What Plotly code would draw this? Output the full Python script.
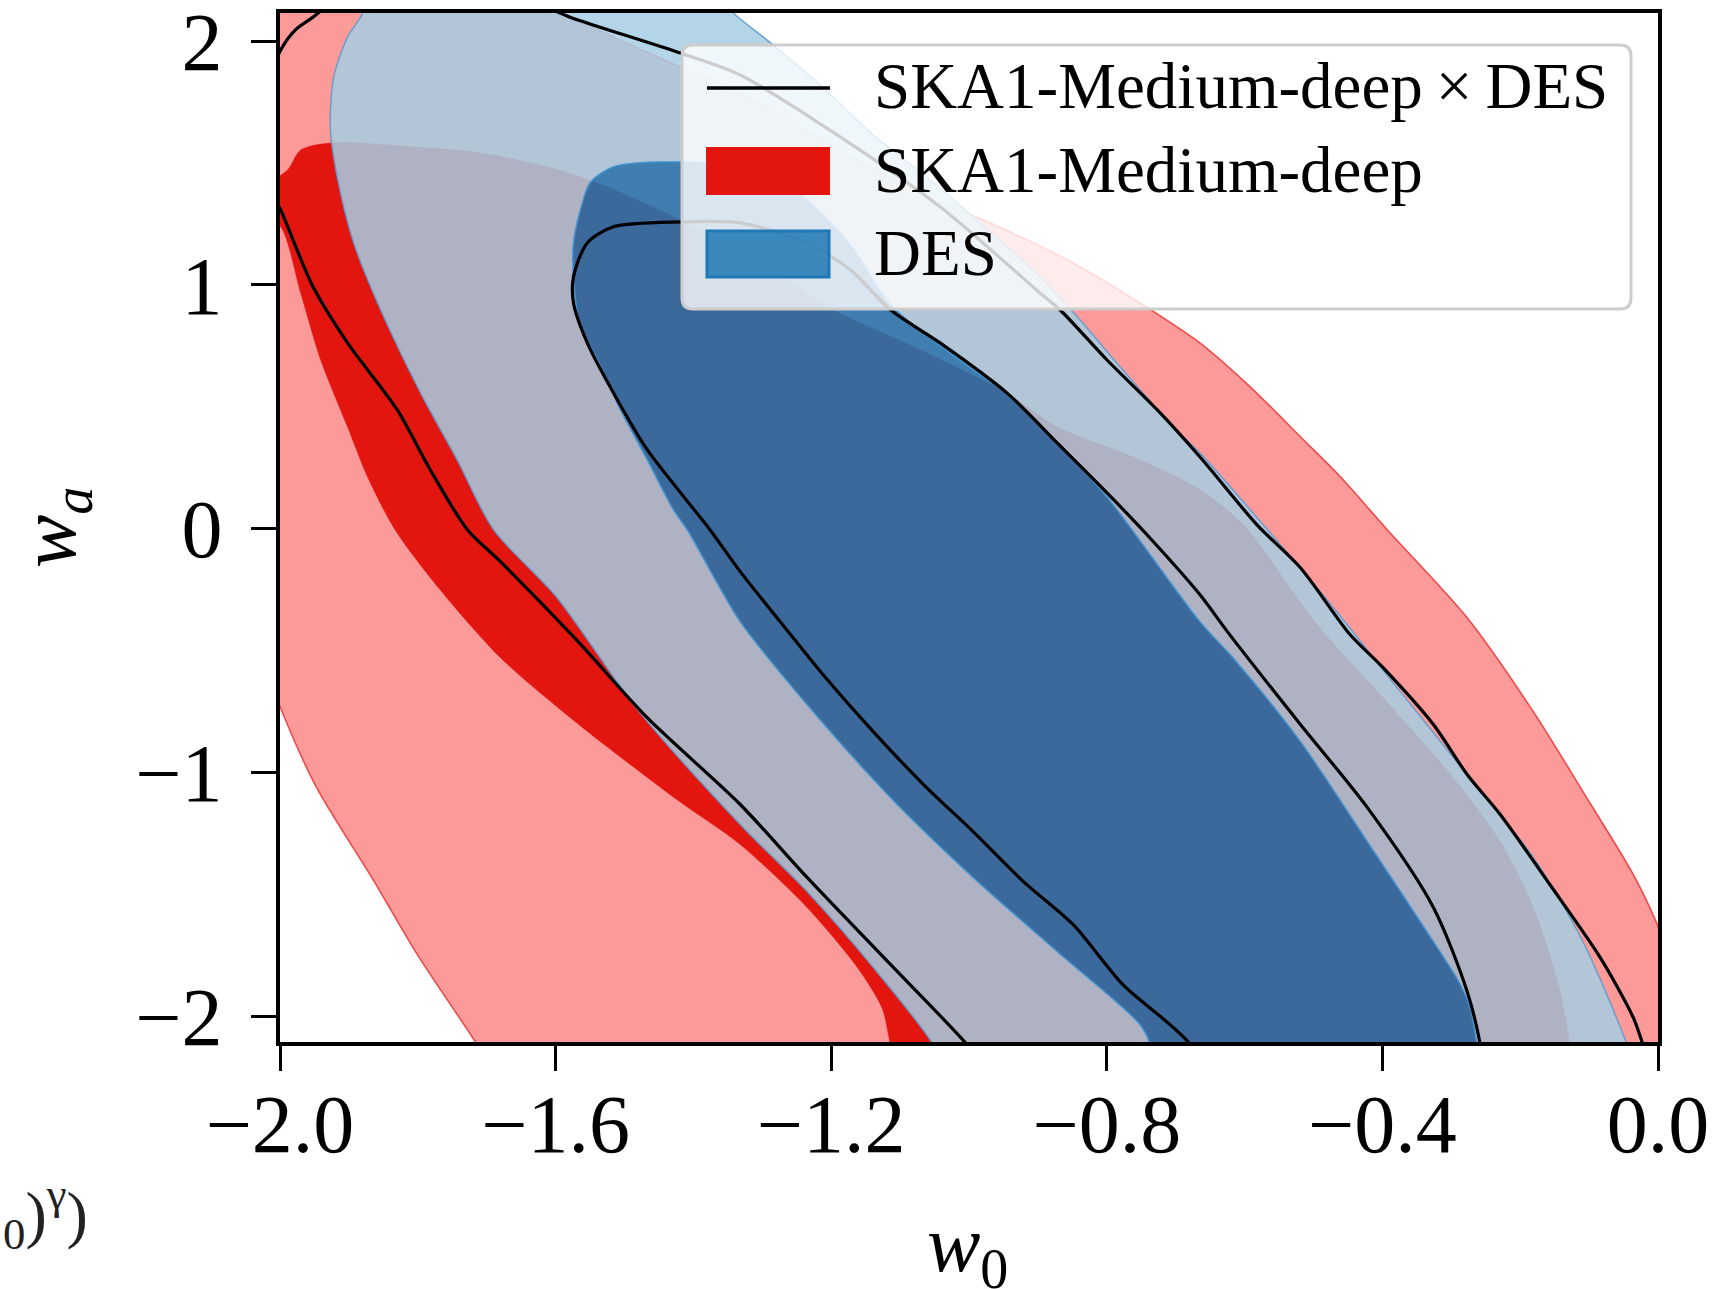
import plotly.graph_objects as go

# ---------------- data (contour boundaries, in (w0, wa)) ----------------
# SKA1-Medium-deep, 2-sigma region
red_2sigma_w0 = [-1.574, -1.419, -1.332, -1.187, -1.061, -0.969, -0.849, -0.752, -0.665, -0.592,
                 -0.519, -0.461, -0.393, -0.277, -0.181, -0.109, -0.036, -0.001, 0.046, 0.083,
                 -0.810, -1.666, -1.718, -1.799, -1.866, -1.947, -2.000, -2.057, -2.087, -2.072,
                 -1.970, -1.753, -1.622]
red_2sigma_wa = [2.094, 1.893, 1.787, 1.553, 1.361, 1.254, 1.090, 0.926, 0.762, 0.582,
                 0.377, 0.213, -0.004, -0.365, -0.750, -1.078, -1.418, -1.623, -1.971, -2.340,
                 -2.750, -2.340, -2.098, -1.754, -1.434, -1.061, -0.730, -0.291, 0.939, 2.168,
                 2.414, 2.414, 2.168]

# SKA1-Medium-deep, 1-sigma region
red_1sigma_w0 = [-2.028, -1.989, -1.970, -1.927, -1.806, -1.709, -1.612, -1.539, -1.419, -1.307,
                 -1.197, -1.071, -0.945, -0.872, -0.752, -0.665, -0.602, -0.495, -0.399, -0.301,
                 -0.229, -0.181, -0.142, -0.128, -0.116, -1.093, -1.114, -1.126, -1.162, -1.235,
                 -1.332, -1.422, -1.570, -1.680, -1.770, -1.833, -1.873, -1.902, -1.941, -1.970,
                 -1.999, -2.028]
red_1sigma_wa = [1.389, 1.471, 1.553, 1.582, 1.566, 1.541, 1.484, 1.418, 1.266, 1.094,
                 0.898, 0.734, 0.557, 0.418, 0.283, 0.160, 0.016, -0.393, -0.693, -1.008,
                 -1.283, -1.553, -1.898, -2.115, -2.340, -2.340, -2.115, -1.967, -1.799, -1.553,
                 -1.295, -1.115, -0.795, -0.529, -0.242, -0.004, 0.213, 0.418, 0.693, 0.967,
                 1.238, 1.287]

# DES, 2-sigma region
blue_2sigma_w0 = [-1.854, -1.607, -1.390, -1.339, -1.293, -1.216, -1.139, -1.056, -0.976, -0.897,
                  -0.843, -0.777, -0.704, -0.665, -0.573, -0.471, -0.374, -0.277, -0.181, -0.109,
                  -0.045, -0.019, -0.519, -1.013, -1.052, -1.139, -1.235, -1.332, -1.481, -1.599,
                  -1.690, -1.743, -1.796, -1.854, -1.893, -1.917, -1.927, -1.922, -1.902, -1.883]
blue_2sigma_wa = [2.250, 2.373, 2.250, 2.107, 2.004, 1.820, 1.615, 1.430, 1.234, 1.033,
                  0.869, 0.652, 0.418, 0.311, 0.016, -0.324, -0.668, -1.008, -1.348, -1.693,
                  -2.115, -2.340, -2.750, -2.340, -2.115, -1.799, -1.488, -1.213, -0.742, -0.279,
                  -0.004, 0.283, 0.557, 0.898, 1.172, 1.443, 1.648, 1.852, 2.016, 2.098]

# DES, 1-sigma region
blue_1sigma_w0 = [-1.516, -1.419, -1.332, -1.245, -1.172, -1.114, -0.994, -0.945, -0.872, -0.800,
                  -0.665, -0.617, -0.519, -0.422, -0.326, -0.287, -0.273, -0.263, -0.255,
                  -0.723, -0.737, -0.752, -0.872, -0.994, -1.114, -1.235, -1.332, -1.409, -1.429,
                  -1.467, -1.506, -1.539, -1.564, -1.574, -1.574, -1.564, -1.550]
blue_1sigma_wa = [1.484, 1.504, 1.480, 1.369, 1.164, 0.918, 0.652, 0.557, 0.352, 0.131,
                  -0.381, -0.529, -0.873, -1.283, -1.693, -1.869, -1.963, -2.115, -2.340,
                  -2.340, -2.115, -2.033, -1.734, -1.430, -1.102, -0.721, -0.381, -0.004, 0.078,
                  0.283, 0.488, 0.693, 0.828, 1.033, 1.172, 1.307, 1.418]

# SKA1-Medium-deep x DES, 1-sigma contour line
comb_1sigma_w0 = [-0.643, -0.679, -0.777, -0.849, -0.921, -0.994, -1.066, -1.139, -1.212, -1.259,
                  -1.332, -1.376, -1.467, -1.516, -1.554, -1.574, -1.574, -1.554, -1.516,
                  -1.419, -1.332, -1.235, -1.172, -1.114, -1.042, -0.945, -0.872, -0.800, -0.740,
                  -0.665, -0.625, -0.519, -0.422, -0.326, -0.277, -0.258, -0.248]
comb_1sigma_wa = [-2.340, -2.115, -1.869, -1.623, -1.447, -1.242, -1.049, -0.832, -0.598, -0.434,
                  -0.176, -0.004, 0.324, 0.557, 0.762, 0.926, 1.033, 1.172, 1.238,
                  1.258, 1.254, 1.172, 1.061, 0.898, 0.762, 0.557, 0.352, 0.148, -0.030,
                  -0.270, -0.422, -0.803, -1.143, -1.553, -1.898, -2.115, -2.340]

# SKA1-Medium-deep x DES, 2-sigma contour line
comb_2sigma_w0 = [0.003, -0.022, -0.036, -0.084, -0.157, -0.229, -0.277, -0.326, -0.399, -0.447,
                  -0.519, -0.582, -0.665, -0.727, -0.800, -0.868, -0.897, -1.042, -1.187, -1.332,
                  -1.419, -1.579, -1.622, -1.753, -1.898, -1.952, -1.978, -1.999, -2.021, -2.026,
                  -2.014, -1.999, -1.952, -1.902, -1.830, -1.782, -1.728, -1.680, -1.570, -1.467,
                  -1.332, -1.235, -1.114, -1.003, -0.940]
comb_2sigma_wa = [-2.340, -2.115, -2.004, -1.758, -1.459, -1.172, -1.008, -0.803, -0.570, -0.434,
                  -0.160, 0.016, 0.295, 0.488, 0.693, 0.898, 0.967, 1.320, 1.607, 1.861,
                  1.951, 2.098, 2.148, 2.250, 2.209, 2.098, 2.045, 1.963, 1.799, 1.553,
                  1.389, 1.307, 0.992, 0.762, 0.488, 0.242, -0.004, -0.135, -0.455, -0.775,
                  -1.131, -1.430, -1.787, -2.115, -2.340]

x_tick_values = [-2.0, -1.6, -1.2, -0.8, -0.4, 0.0]
x_tick_labels = ["\u22122.0", "\u22121.6", "\u22121.2", "\u22120.8", "\u22120.4", "0.0"]
y_tick_values = [-2, -1, 0, 1, 2]
y_tick_labels = ["\u22122", "\u22121", "0", "1", "2"]

legend_labels = ["SKA1-Medium-deep\u2009\u00d7\u2009DES", "SKA1-Medium-deep", "DES"]

# ---------------- styling ----------------
W, H = 1733, 1289
ML, MR, MT, MB = 280, 75, 13, 247
PW = W - ML - MR
PH = H - MT - MB


def pxx(px):
    return (px - ML) / PW


def pxy(py):
    return (H - MB - py) / PH


SERIF = "Liberation Serif"
RED_LIGHT = "#fb9a99"
RED_DARK = "#e3150f"
BLUE_LIGHT = "rgba(166,206,227,0.85)"
BLUE_DARK = "rgba(31,120,180,0.85)"
SMOOTH = 0.8

fig = go.Figure()


def add_poly(x, y, fill, lcolor, lwidth):
    fig.add_trace(go.Scatter(x=x, y=y, mode="lines", fill="toself", fillcolor=fill,
                             line=dict(color=lcolor, width=lwidth, shape="spline",
                                       smoothing=SMOOTH),
                             hoverinfo="skip", showlegend=False))


# SKA1 contours (opaque)
add_poly(red_2sigma_w0 + red_2sigma_w0[:1], red_2sigma_wa + red_2sigma_wa[:1],
         RED_LIGHT, "rgba(236,60,60,0.9)", 1.6)
add_poly(red_1sigma_w0 + red_1sigma_w0[:1], red_1sigma_wa + red_1sigma_wa[:1],
         RED_DARK, RED_DARK, 0.5)

# DES 2-sigma band (outer ring with the 1-sigma region cut out)
inner_rev_x = blue_1sigma_w0[::-1]
inner_rev_y = blue_1sigma_wa[::-1]
ring_x = blue_2sigma_w0 + blue_2sigma_w0[:1] + [None] + inner_rev_x + inner_rev_x[:1]
ring_y = blue_2sigma_wa + blue_2sigma_wa[:1] + [None] + inner_rev_y + inner_rev_y[:1]
add_poly(ring_x, ring_y, BLUE_LIGHT, "rgba(95,155,205,0.9)", 1.5)

# DES 1-sigma region
add_poly(blue_1sigma_w0 + blue_1sigma_w0[:1], blue_1sigma_wa + blue_1sigma_wa[:1],
         BLUE_DARK, "rgba(70,150,210,0.9)", 1.3)

# combined contours (lines only)
for xs, ys in [(comb_1sigma_w0, comb_1sigma_wa), (comb_2sigma_w0, comb_2sigma_wa)]:
    fig.add_trace(go.Scatter(x=xs, y=ys, mode="lines",
                             line=dict(color="black", width=3.2, shape="spline",
                                       smoothing=SMOOTH),
                             hoverinfo="skip", showlegend=False))

# ---------------- legend (drawn by hand to match the matplotlib look) ----------------
x0, x1 = pxx(682), pxx(1631)
y0, y1 = pxy(309), pxy(45)
rx, ry = 11 / PW, 11 / PH
legend_path = (f"M {x0 + rx},{y1} L {x1 - rx},{y1} Q {x1},{y1} {x1},{y1 - ry} "
               f"L {x1},{y0 + ry} Q {x1},{y0} {x1 - rx},{y0} L {x0 + rx},{y0} "
               f"Q {x0},{y0} {x0},{y0 + ry} L {x0},{y1 - ry} Q {x0},{y1} {x0 + rx},{y1} Z")
shapes = [
    dict(type="path", path=legend_path, xref="paper", yref="paper", layer="above",
         fillcolor="rgba(255,255,255,0.8)", line=dict(color="rgb(205,205,205)", width=3)),
    dict(type="line", xref="paper", yref="paper", layer="above",
         x0=pxx(707), x1=pxx(830), y0=pxy(88), y1=pxy(88),
         line=dict(color="black", width=3.5)),
    dict(type="rect", xref="paper", yref="paper", layer="above",
         x0=pxx(706), x1=pxx(830), y0=pxy(195), y1=pxy(147),
         fillcolor=RED_DARK, line=dict(color=RED_DARK, width=0)),
    dict(type="rect", xref="paper", yref="paper", layer="above",
         x0=pxx(707), x1=pxx(829), y0=pxy(277), y1=pxy(231),
         fillcolor=BLUE_DARK, line=dict(color="rgb(31,120,180)", width=3)),
]

annotations = []
for lab, cy in zip(legend_labels, [86, 170, 253]):
    annotations.append(dict(text=lab, xref="paper", yref="paper", x=pxx(872), y=pxy(cy),
                            xanchor="left", yanchor="middle", showarrow=False,
                            font=dict(family=SERIF, size=65, color="black")))

# axis titles
annotations.append(dict(text="<i>w</i><sub>0</sub>", xref="paper", yref="paper",
                        x=pxx(967), y=pxy(1250), xanchor="center", yanchor="middle",
                        showarrow=False, font=dict(family=SERIF, size=80, color="black")))
annotations.append(dict(text="<i>w</i><sub><i>a</i></sub>", xref="paper", yref="paper",
                        x=pxx(54), y=pxy(528), xanchor="center", yanchor="middle",
                        textangle=-90, showarrow=False,
                        font=dict(family=SERIF, size=80, color="black")))
# fragment of neighbouring text at the figure edge
annotations.append(dict(text="<sub>0</sub>)<sup>\u03b3</sup>)", xref="paper", yref="paper",
                        x=pxx(1), y=pxy(1214), xanchor="left", yanchor="middle",
                        showarrow=False, font=dict(family=SERIF, size=64, color="#222222")))

axis_common = dict(ticks="outside", ticklen=25, tickwidth=3, tickcolor="black",
                   showline=True, linewidth=4, linecolor="black", mirror=True,
                   showgrid=False, zeroline=False, automargin=False,
                   ticklabeloverflow="allow",
                   tickfont=dict(family=SERIF, size=82, color="black"))

fig.update_layout(
    width=W, height=H, autosize=False,
    margin=dict(l=ML, r=MR, t=MT, b=MB, pad=0, autoexpand=False),
    paper_bgcolor="white", plot_bgcolor="white", showlegend=False,
    xaxis=dict(range=[-2.0, 0.0], tickmode="array", tickvals=x_tick_values,
               ticktext=x_tick_labels, ticklabelstandoff=-17, **axis_common),
    yaxis=dict(range=[-2.105, 2.115], tickmode="array", tickvals=y_tick_values,
               ticktext=y_tick_labels, ticklabelstandoff=12, **axis_common),
    shapes=shapes, annotations=annotations,
)

fig.write_html("out.html")
